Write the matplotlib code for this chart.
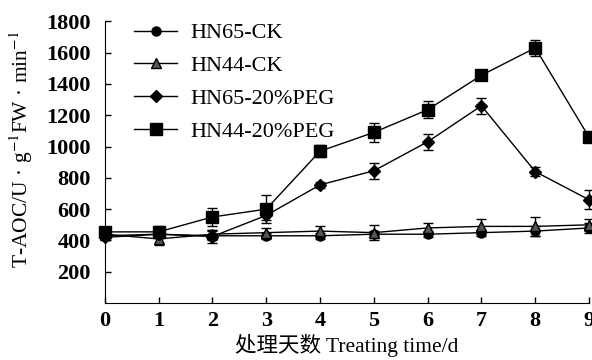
import numpy as np
import matplotlib.pyplot as plt

plt.rcParams['font.family'] = ['Liberation Serif', 'Noto Sans CJK SC']
plt.rcParams['mathtext.fontset'] = 'stix'

days = [0, 1, 2, 3, 4, 5, 6, 7, 8, 9]

hn65_ck = [430, 440, 430, 430, 430, 440, 440, 450, 460, 480]
hn65_ck_err = [20, 20, 30, 20, 20, 20, 20, 20, 30, 30]
hn44_ck = [440, 410, 440, 450, 460, 450, 480, 490, 490, 500]
hn44_ck_err = [40, 40, 30, 30, 30, 50, 30, 50, 60, 40]
hn65_peg = [420, 440, 425, 560, 755, 845, 1030, 1260, 840, 660]
hn65_peg_err = [20, 20, 40, 30, 20, 50, 50, 50, 30, 60]
hn44_peg = [455, 455, 550, 600, 970, 1090, 1235, 1455, 1630, 1060]
hn44_peg_err = [30, 40, 60, 90, 40, 60, 55, 20, 50, 20]

labels = ['HN65-CK', 'HN44-CK', 'HN65-20%PEG', 'HN44-20%PEG']

fig = plt.figure(figsize=(5.92, 3.6), dpi=100)
ax = fig.add_axes([0.177, 0.158, 0.818, 0.783])

series = [
  (hn65_ck, hn65_ck_err, 'o', 'black', 6.5),
  (hn44_ck, hn44_ck_err, '^', '#555555', 7.5),
  (hn65_peg, hn65_peg_err, 'D', 'black', 6),
  (hn44_peg, hn44_peg_err, 's', 'black', 8.5),
]
containers = []
for (vals, err, m, c, ms), lab in zip(series, labels):
  cont = ax.errorbar(days, vals, yerr=err, marker=m, markersize=ms, color='black',
                     markerfacecolor=c, markeredgecolor='black', lw=1.0,
                     elinewidth=1.0, capsize=3.5, capthick=1.0, label=lab,
                     clip_on=False, zorder=3)
  containers.append(cont)

ax.set_xlim(0, 9)
ax.set_ylim(0, 1800)
ax.set_xticks(days)
ax.set_yticks(range(200, 1801, 200))
ax.spines['top'].set_visible(False)
ax.spines['right'].set_visible(False)
ax.tick_params(direction='in', length=4, labelsize=16, width=1)
ax.tick_params(axis='y', pad=10)
ax.tick_params(axis='x', pad=6)
for t in ax.get_xticklabels() + ax.get_yticklabels():
  t.set_fontweight('bold')

ax.set_ylabel('T-AOC/U · g$^{-1}$FW · min$^{-1}$', fontsize=15.5, labelpad=2)
ax.yaxis.set_label_coords(-0.145, 0.545)
ax.set_xlabel('处理天数 Treating time/d', fontsize=15.5, labelpad=2)

handles = [c[0] for c in containers]
ax.legend(handles, labels, loc='upper left', frameon=False, fontsize=16,
          bbox_to_anchor=(0.02, 1.065), handlelength=1.9, handletextpad=0.6,
          labelspacing=0.55)

plt.savefig('out.png', dpi=100)
